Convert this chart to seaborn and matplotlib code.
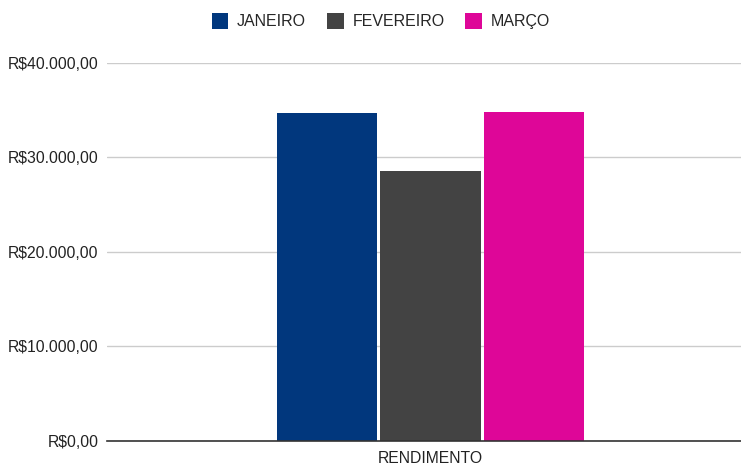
import matplotlib.pyplot as plt
import seaborn as sns
import pandas as pd
from matplotlib.patches import Patch
from matplotlib.ticker import FuncFormatter

meses = ["JANEIRO", "FEVEREIRO", "MARÇO"]
valores = [34630, 28580, 34820]
categoria = ["RENDIMENTO"] * 3
cores = ["#01377D", "#434343", "#DE0698"]

df = pd.DataFrame({"cat": categoria, "mes": meses, "valor": valores})

sns.set_theme(style="white")
plt.rcParams['font.family'] = ['Liberation Sans', 'DejaVu Sans']

fig = plt.figure(figsize=(7.41, 4.71), dpi=100)
# o eixo passa um pouco da borda direita, como no original
ax = fig.add_axes([107 / 741, 1 - 441 / 471, 647 / 741, (441 - 62.7) / 471])

sns.barplot(data=df, x="cat", y="valor", hue="mes", hue_order=meses,
            palette=cores, width=0.48, gap=0.03, saturation=1,
            edgecolor="none", legend=False, ax=ax)

def real(v, pos):
    s = f"{v:,.2f}".replace(",", "X").replace(".", ",").replace("X", ".")
    return "R$" + s

ax.set_ylim(0, 40000)
ax.set_xlim(-0.5, 0.5)
ax.set_yticks([0, 10000, 20000, 30000, 40000])
ax.yaxis.set_major_formatter(FuncFormatter(real))
ax.grid(axis="y", color="#CCCCCC", linewidth=1)
ax.set_axisbelow(True)
for s in ["top", "right", "left"]:
    ax.spines[s].set_visible(False)
ax.spines["bottom"].set_color("#333333")
ax.spines["bottom"].set_linewidth(1.2)
ax.tick_params(axis="both", length=0, labelsize=11.3, colors="#222222")
ax.tick_params(axis="y", pad=6)
ax.tick_params(axis="x", pad=7)
ax.set_xlabel("")
ax.set_ylabel("")

handles = [Patch(facecolor=c, edgecolor="none") for c in cores]
fig.legend(handles, meses, loc="center", bbox_to_anchor=(0.514, 1 - 21 / 471),
           ncol=3, frameon=False, fontsize=11.5, handlelength=1.05,
           handleheight=1.25, handletextpad=0.55, columnspacing=1.3)

fig.savefig("out.png", dpi=100)
